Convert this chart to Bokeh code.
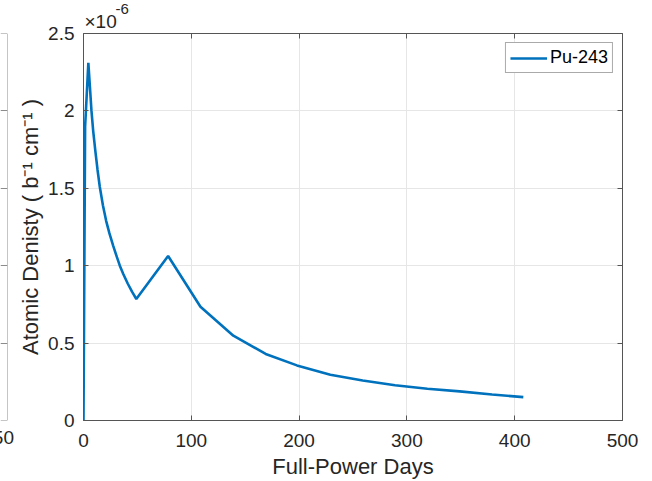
from bokeh.plotting import figure
from bokeh.models import (Range1d, FixedTicker, LinearAxis, Span, Legend,
                          LegendItem, Grid, Title)
from bokeh.layouts import row
from bokeh.embed import file_html
from bokeh.resources import INLINE

# ---- data (atomic density in units of 1e-6 b^-1 cm^-1) ----
days = [0, 1.5, 4.5, 6, 7.4, 9, 11, 13, 15.1, 18, 21, 24, 27.5, 31, 33.7, 37, 41, 45, 49,
        78.5, 108.5, 139, 169, 198, 229, 259, 289, 319, 349, 379, 408]
density_e6 = [0, 1.9, 2.31, 2.15, 2.0, 1.87, 1.74, 1.62, 1.51, 1.39, 1.29, 1.21, 1.13,
              1.055, 1.0, 0.945, 0.885, 0.832, 0.785,
              1.063, 0.735, 0.548, 0.43, 0.356, 0.296, 0.258, 0.228, 0.205,
              0.188, 0.168, 0.151]
series_name = "Pu-243"
x_ticks = [0, 100, 200, 300, 400, 500]
x_tick_labels = ["0", "100", "200", "300", "400", "500"]
y_ticks = [0, 0.5, 1, 1.5, 2, 2.5]
y_tick_labels = ["0", "0.5", "1", "1.5", "2", "2.5"]
x_label = "Full-Power Days"
y_label = "Atomic Denisty ( b\u207b\u00b9 cm\u207b\u00b9 )"
y_exp_base = "\u00d710"
y_exp_power = "-6"
neighbor_tick_text = "50"

FONT = "Liberation Sans"
TXT = "#262626"
LN = "#555555"
TICK_SIZE = "19px"

# ---- main axes ----
p = figure(width=638, height=481, x_range=Range1d(0, 500), y_range=Range1d(0, 2.5),
           output_backend="svg", toolbar_location=None,
           min_border_left=69, min_border_right=30, min_border_top=33, min_border_bottom=60,
           outline_line_color=None, background_fill_color="white", border_fill_color="white")

r = p.line(days, density_e6, line_color="#0072BD", line_width=2.6)


def style(ax, ticks, labels, show):
    ax.ticker = FixedTicker(ticks=ticks)
    ax.major_label_overrides = {t: (l if show else "") for t, l in zip(ticks, labels)}
    ax.axis_line_color = LN
    ax.axis_line_width = 1
    ax.major_tick_line_color = LN
    ax.major_tick_in = 5
    ax.major_tick_out = 0
    ax.minor_tick_line_color = None
    ax.major_label_text_font = FONT
    ax.major_label_text_font_size = TICK_SIZE if show else "1px"
    ax.major_label_text_color = TXT


xa = p.xaxis[0]
ya = p.yaxis[0]
style(xa, x_ticks, x_tick_labels, True)
style(ya, y_ticks, y_tick_labels, True)
xa.major_label_standoff = 13
ya.major_label_standoff = 9
xa.axis_label = x_label
ya.axis_label = y_label
for ax in (xa, ya):
    ax.axis_label_text_font = FONT
    ax.axis_label_text_font_size = "22px"
    ax.axis_label_text_font_style = "normal"
    ax.axis_label_text_color = TXT
xa.axis_label_standoff = 4
ya.axis_label_standoff = 2

top = LinearAxis()
style(top, x_ticks, x_tick_labels, False)
top.major_label_standoff = 0
p.add_layout(top, "above")
right = LinearAxis()
style(right, y_ticks, y_tick_labels, False)
right.major_label_standoff = 0
p.add_layout(right, "right")

# exponent of the y axis (x10^-6)
p.add_layout(Title(text=y_exp_base, align="left", offset=1, standoff=3,
                   text_font=FONT, text_font_size=TICK_SIZE, text_font_style="normal",
                   text_color=TXT), "above")
p.add_layout(Title(text=y_exp_power, align="left", offset=32, standoff=-12,
                   text_font=FONT, text_font_size="15px", text_font_style="normal",
                   text_color=TXT), "above")

p.xgrid.ticker = FixedTicker(ticks=x_ticks)
p.ygrid.ticker = FixedTicker(ticks=y_ticks)
p.grid.grid_line_color = "#e6e6e6"
p.grid.grid_line_width = 1

legend = Legend(items=[LegendItem(label=series_name, renderers=[r])], location="top_right",
                border_line_color=LN, border_line_width=1, background_fill_color="white",
                background_fill_alpha=1, label_text_font=FONT, label_text_font_size="18px",
                label_text_color="#000000", glyph_width=37, glyph_height=20, label_height=20,
                padding=4, spacing=0, margin=9, label_standoff=3)
p.add_layout(legend)

# ---- cropped neighbouring axes on the left edge ----
lf = figure(width=14, height=481, x_range=Range1d(0, 1), y_range=Range1d(0, 2.5),
            output_backend="svg", toolbar_location=None,
            min_border_left=0, min_border_right=7, min_border_top=33, min_border_bottom=60,
            x_axis_location=None, y_axis_location=None, outline_line_color=None,
            background_fill_color="white", border_fill_color="white")
lf.grid.visible = False
lf.add_layout(Grid(dimension=1, ticker=FixedTicker(ticks=y_ticks[1:-1]),
                   grid_line_color="#8c8c8c", grid_line_width=1))
for sp in (Span(location=1, dimension="height"), Span(location=2.5, dimension="width"),
           Span(location=0, dimension="width")):
    sp.line_color = "#8c8c8c"
    sp.line_width = 1
    lf.add_layout(sp)
lf.add_layout(Title(text=neighbor_tick_text, align="right", offset=-6.5, standoff=17,
                    text_font=FONT, text_font_size=TICK_SIZE, text_font_style="normal",
                    text_color=TXT), "below")

layout = row(lf, p, spacing=0)
open("out.html", "w").write(file_html(layout, INLINE))
